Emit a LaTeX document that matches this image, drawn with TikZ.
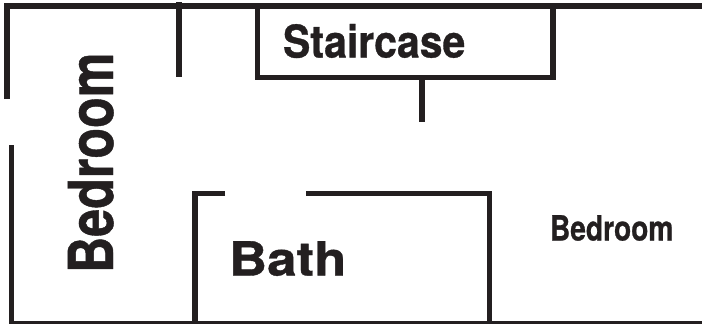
\documentclass[tikz,border=0pt]{standalone}
\usepackage{fontspec}
\setmainfont{TeX Gyre Heros}[BoldFeatures={FakeBold=0.8}]
\definecolor{ink}{HTML}{231F20}
\tikzset{
  wall/.style={draw=ink,line width=5.2pt,line cap=butt,line join=miter},
  thinwall/.style={draw=ink,line width=2.6pt,line cap=butt},
  label/.style={text=ink,inner sep=0pt,outer sep=0pt,font=\bfseries}
}
\begin{document}
\begin{tikzpicture}[x=1pt,y=-1pt]
\useasboundingbox (0,0) rectangle (702,324);
% outer walls
\draw[wall] (7,99) -- (7,6) -- (702,6);
\draw[wall] (11.5,145) -- (11.5,322);
\draw[thinwall] (9,322.5) -- (702,322.5);
% partition by the top wall
\draw[wall] (179,2) -- (179,77);
% staircase
\draw[wall] (257.5,6) -- (257.5,77.5) -- (553,77.5) -- (553,6);
\draw[wall] (422,77.5) -- (422,122);
% bath
\draw[wall] (225,193.5) -- (195,193.5) -- (195,322);
\draw[wall] (306,193.5) -- (489.5,193.5) -- (489.5,322);
% labels
\node[label,anchor=base west] (stair) at (283,57.5) {\fontsize{45}{45}\selectfont\scalebox{.91}[1]{Staircase}};
\node[label,anchor=base west] (bath) at (229,275.5) {\fontsize{47}{47}\selectfont\scalebox{1.125}[1]{Bath}};
\node[label,anchor=base west] (bedr) at (550,240.5) {\fontsize{34.7}{35}\selectfont\scalebox{.81}[1]{Bedroom}};
\node[label,anchor=base west,rotate=90] (bedl) at (113,273) {\fontsize{62}{62}\selectfont\scalebox{.81}[1]{Bedroom}};
\end{tikzpicture}
\end{document}
